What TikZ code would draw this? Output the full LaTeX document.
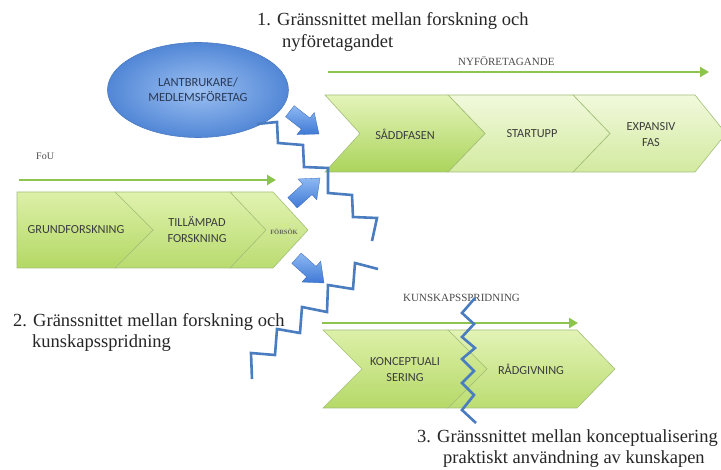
\documentclass[tikz,border=0pt]{standalone}
\usepackage{fontspec}
\setmainfont{Liberation Serif}
\newfontfamily\calib{Carlito}
\usetikzlibrary{arrows.meta,shapes.geometric}
\definecolor{zig}{HTML}{4A7CC0}
\definecolor{garrow}{HTML}{8CC44E}
\definecolor{chevline}{HTML}{A3BF78}
\definecolor{chevtxt}{HTML}{3C3C3C}
\definecolor{lbltxt}{HTML}{262626}
\definecolor{smalltxt}{HTML}{4A4A4A}
\definecolor{paleT}{HTML}{F1F9DC}
\definecolor{paleB}{HTML}{D3EAA0}
\definecolor{sadT}{HTML}{E4F4BA}
\definecolor{sadB}{HTML}{ABD45B}
\definecolor{forT}{HTML}{E2F3B2}
\definecolor{forB}{HTML}{BBDC72}
\definecolor{tilT}{HTML}{E0F2AE}
\definecolor{tilB}{HTML}{B8DB6E}
\definecolor{gruT}{HTML}{DDF0A8}
\definecolor{gruB}{HTML}{B3D864}
\definecolor{radT}{HTML}{E3F3B6}
\definecolor{radB}{HTML}{BBDD72}
\definecolor{konT}{HTML}{DDF0A8}
\definecolor{konB}{HTML}{B5D968}
\definecolor{ellLine}{HTML}{4A7AC0}
\definecolor{ellIn}{HTML}{9CC0F2}
\definecolor{ellOut}{HTML}{5287D6}
\definecolor{ellTxt}{HTML}{2A3A58}
\definecolor{barT}{HTML}{8DB8F2}
\definecolor{barB}{HTML}{3F79D6}
\tikzset{
  chev/.style={draw=chevline, line width=0.6pt},
  chevtext/.style={font=\calib\fontsize{12.3}{16}\selectfont, text=chevtxt, align=center, inner sep=0pt},
  biglabel/.style={font=\fontsize{18.5}{22}\selectfont, text=lbltxt, anchor=base west, inner sep=0pt},
  rowlabel/.style={font=\fontsize{11}{13}\selectfont, text=smalltxt, anchor=base west, inner sep=0pt},
  zigline/.style={draw=zig, line width=2.6pt, line join=miter, line cap=butt},
  greenarrow/.style={draw=garrow, line width=2.8pt, -{Triangle[length=9pt,width=10pt]}},
  blockarrow/.pic={
    \path[draw=barB!85!black, line width=0.3pt, top color=barT, bottom color=barB]
      (-37,-7) -- (-17,-7) -- (-17,-14) -- (0,0) -- (-17,14) -- (-17,7) -- (-37,7) -- cycle;
  }
}
\begin{document}
\begin{tikzpicture}[x=1pt,y=-1pt]
\useasboundingbox[fill=white] (0,0) rectangle (721,470);

% ---------- top row (NYFÖRETAGANDE) ----------
\path[chev, top color=paleT, bottom color=paleB]
  (573,95) -- (695,95) -- (726,133.5) -- (695,172) -- (573,172) -- (610,133.5) -- cycle;
\path[chev, top color=paleT, bottom color=paleB]
  (448,95) -- (573,95) -- (610,133.5) -- (573,172) -- (448,172) -- (485,133.5) -- cycle;
\path[chev, top color=sadT, bottom color=sadB]
  (325,95) -- (448,95) -- (485,133.5) -- (448,172) -- (325,172) -- (360,133.5) -- cycle;

\node[chevtext] (saddf) at (405,134) {SÅDDFASEN};
\node[chevtext] (startupp) at (532,134) {STARTUPP};
\node[chevtext] (expansiv) at (651,135) {EXPANSIV\\FAS};

% ---------- middle row (FoU) ----------
\path[chev, top color=forT, bottom color=forB]
  (230,192) -- (273,192) -- (308,230) -- (273,268) -- (230,268) -- (264,230) -- cycle;
\path[chev, top color=tilT, bottom color=tilB]
  (115,192) -- (230,192) -- (266,230) -- (230,268) -- (115,268) -- (153,230) -- cycle;
\path[chev, top color=gruT, bottom color=gruB]
  (17,192) -- (115,192) -- (153,230) -- (115,268) -- (17,268) -- cycle;

\node[chevtext] (grund) at (76,230) {GRUNDFORSKNING};
\node[chevtext] (tillampad) at (197,230) {TILLÄMPAD\\FORSKNING};
\node[font=\fontsize{6.5}{8}\selectfont\bfseries, text=chevtxt!80, inner sep=0pt] (forsok) at (284,232) {FÖRSÖK};

% ---------- bottom row (KUNSKAPSSPRIDNING) ----------
\path[chev, top color=radT, bottom color=radB]
  (448,330) -- (577,330) -- (615,369) -- (577,408) -- (448,408) -- (487,369) -- cycle;
\path[chev, top color=konT, bottom color=konB]
  (323,330) -- (448,330) -- (487,369) -- (448,408) -- (323,408) -- (362,369) -- cycle;

\node[chevtext] (konc) at (405,369.5) {KONCEPTUALI\\SERING};
\node[chevtext] (radg) at (531,369) {RÅDGIVNING};

% ---------- ellipse ----------
\node[ellipse, minimum width=181pt, minimum height=95pt, draw=ellLine, line width=0.6pt,
      inner color=ellIn, outer color=ellOut,
      font=\calib\fontsize{12.5}{15}\selectfont, text=ellTxt, align=center] (lant) at (198,90)
  {LANTBRUKARE/\\MEDLEMSFÖRETAG};

% ---------- green arrows ----------
\coordinate (nyA) at (328,72);
\coordinate (nyB) at (709,72);
\coordinate (fouA) at (19,180);
\coordinate (fouB) at (276,180);
\coordinate (kuA) at (322,323);
\coordinate (kuB) at (578,323);
\draw[greenarrow] (nyA) -- (nyB);
\draw[greenarrow] (fouA) -- (fouB);
\draw[greenarrow] (kuA) -- (kuB);

% ---------- row labels ----------
\node[rowlabel] (nylbl) at (458,66) {NYFÖRETAGANDE};
\node[rowlabel, font=\fontsize{10}{12}\selectfont] (foulbl) at (36,160) {FoU};
\node[rowlabel] (kulbl) at (403,302) {KUNSKAPSSPRIDNING};

% ---------- big labels ----------
\node[biglabel] (t1a) at (257,26) {1. Gränssnittet mellan forskning och};
\node[biglabel] (t1b) at (282,48) {nyföretagandet};
\node[biglabel] (t2a) at (13,327) {2. Gränssnittet mellan forskning och};
\node[biglabel] (t2b) at (32,348) {kunskapsspridning};
\node[biglabel] (t3a) at (417,443) {3. Gränssnittet mellan konceptualisering};
\node[biglabel] (t3b) at (443,464) {praktiskt användning av kunskapen};

% ---------- block arrows ----------
\pic[rotate=-38] at (319,134) {blockarrow};
\pic[rotate=42] at (320,178) {blockarrow};
\pic[rotate=-42] at (324,283) {blockarrow};

% ---------- zigzag boundaries ----------
\draw[zigline] (257,124) -- (277,122) -- (278,143) -- (303,145) -- (304,167) -- (328,168)
  -- (328,193) -- (352,195) -- (353,217) -- (377,218) -- (372,241);
\draw[zigline] (252,379) -- (251,353) -- (275,355) -- (277,329) -- (300,333) -- (302,307)
  -- (327,312) -- (328,285) -- (353,289) -- (355,263) -- (378,269);
\draw[zigline] (475,298) -- (462,313) -- (474,324) -- (462,337) -- (475,348) -- (462,359)
  -- (474,371) -- (462,383) -- (474,395) -- (462,410) -- (476,423);
\end{tikzpicture}
\end{document}
